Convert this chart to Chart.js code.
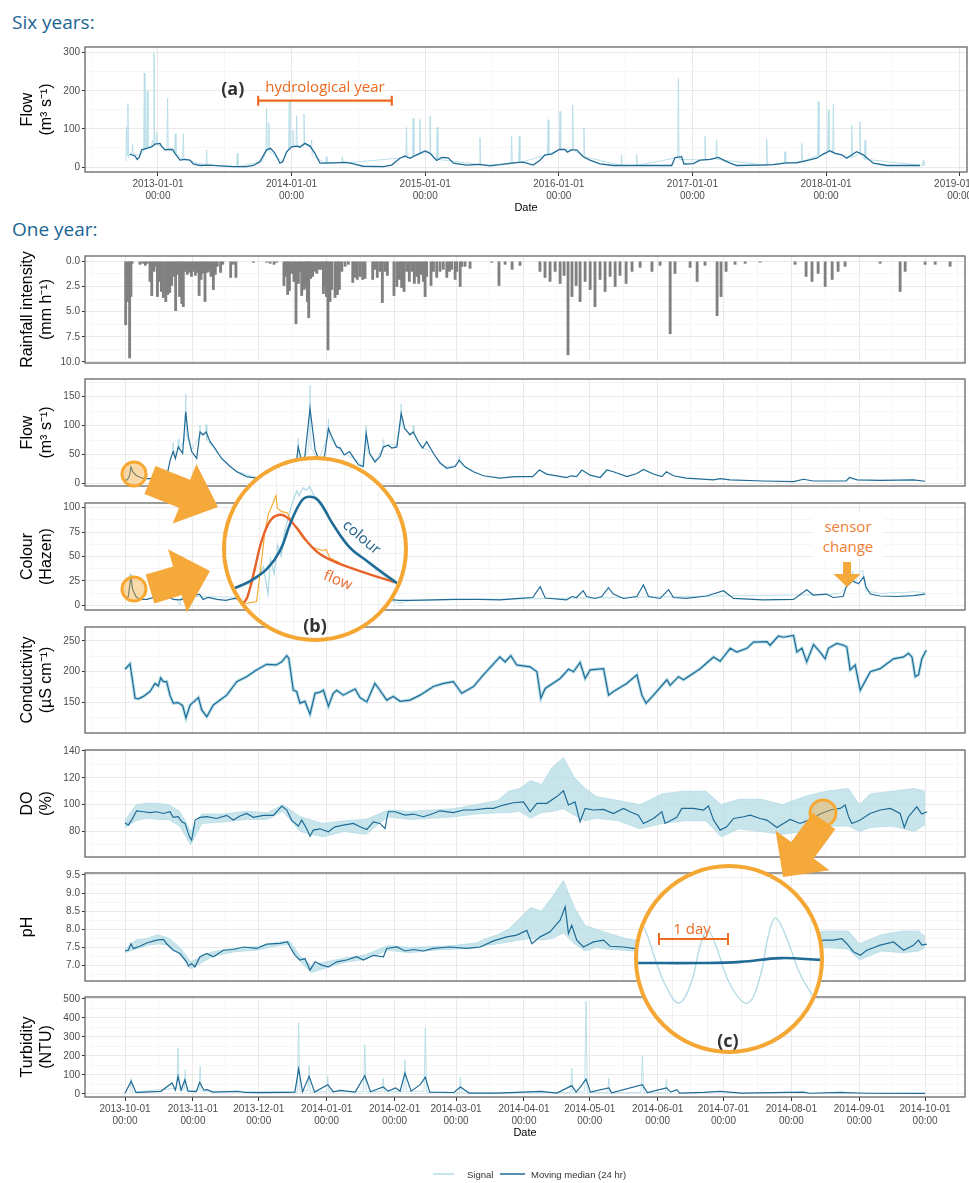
<!DOCTYPE html>
<html>
<head>
<meta charset="utf-8">
<script src="https://cdn.jsdelivr.net/npm/chart.js@4.4.1/dist/chart.umd.min.js"></script>
<style>
body { margin: 0; background: #fff; width: 969px; height: 1183px; position: relative; overflow: hidden; font-family: "Liberation Sans", Arial, sans-serif; }
canvas.pane { position: absolute; left: 0; z-index: 1; }
.head { position: absolute; left: 12px; font: 19px/26px "Open Sans", sans-serif; color: #1c6594; }
.zoomc { position: absolute; box-sizing: border-box; border: 4px solid #f5a733; border-radius: 50%; overflow: hidden; background: #fff; z-index: 3; }
.zoomc canvas { display: block; }
#deco { position: absolute; left: 0; top: 0; z-index: 4; pointer-events: none; }
</style>
</head>
<body>
<div class="head" style="top:9px">Six years:</div>
<div class="head" style="top:216px">One year:</div>

<canvas class="pane" id="six" width="969" height="174" style="top:41px"></canvas>
<canvas class="pane" id="rain" width="969" height="119" style="top:250px"></canvas>
<canvas class="pane" id="flow" width="969" height="119" style="top:373px"></canvas>
<canvas class="pane" id="colour" width="969" height="119" style="top:497px"></canvas>
<canvas class="pane" id="cond" width="969" height="118" style="top:621px"></canvas>
<canvas class="pane" id="do" width="969" height="119" style="top:744px"></canvas>
<canvas class="pane" id="ph" width="969" height="120" style="top:867px"></canvas>
<canvas class="pane" id="turb" width="969" height="149" style="top:991px"></canvas>

<div class="zoomc" style="left:222px;top:456px;width:186px;height:186px"><canvas id="zoomB" width="178" height="178"></canvas></div>
<div class="zoomc" style="left:634px;top:864px;width:190px;height:190px"><canvas id="zoomC" width="182" height="182"></canvas></div>

<svg id="deco" width="969" height="1183"></svg>

<script>
// ---------- six years of flow (x = decimal year) ----------
const flow6Years = [2012.790,2012.828,2012.845,2012.860,2012.878,2012.915,2012.953,2012.978,2013.015,2013.027,2013.052,2013.077,2013.110,2013.127,2013.165,2013.202,2013.240,2013.264,2013.314,2013.389,2013.464,2013.564,2013.664,2013.714,2013.763,2013.813,2013.843,2013.876,2013.913,2013.933,2013.963,2014.000,2014.038,2014.063,2014.100,2014.138,2014.175,2014.213,2014.312,2014.412,2014.462,2014.537,2014.687,2014.749,2014.811,2014.849,2014.886,2014.936,2014.999,2015.036,2015.086,2015.123,2015.173,2015.211,2015.310,2015.410,2015.485,2015.560,2015.660,2015.734,2015.809,2015.859,2015.897,2015.946,2016.004,2016.046,2016.064,2016.096,2016.134,2016.183,2016.233,2016.308,2016.408,2016.657,2016.845,2016.870,2016.919,2016.937,2017.007,2017.057,2017.132,2017.194,2017.256,2017.331,2017.506,2017.606,2017.705,2017.780,2017.855,2017.930,2017.980,2018.030,2018.067,2018.117,2018.154,2018.229,2018.279,2018.354,2018.454,2018.703];
const flow6Median = [34,29,20,25,45,49,53,60,62,55,45,46,46,36,18,20,18,8,4,5,3,1,1,4,14,45,49,36,10,14,40,53,55,52,62,55,36,10,11,12,8,2,1,5,23,29,23,32,42,36,17,25,24,10,5,7,3,6,11,13,5,18,32,34,46,46,39,45,45,27,18,8,4,4,4,25,27,8,9,18,20,25,14,4,5,6,11,11,17,23,34,43,36,32,23,40,32,10,4,4];
const flow6SigYears = [2012.760,2012.765,2012.770,2012.775,2012.780,2012.805,2012.810,2012.815,2012.860,2012.893,2012.898,2012.903,2012.915,2012.920,2012.925,2012.950,2012.960,2012.965,2012.970,2012.975,2012.985,2012.990,2012.995,2013.067,2013.072,2013.077,2013.125,2013.130,2013.135,2013.185,2013.190,2013.195,2013.359,2013.364,2013.369,2013.589,2013.594,2013.599,2013.780,2013.808,2013.813,2013.818,2013.825,2013.830,2013.835,2013.930,2013.978,2013.983,2013.988,2014.005,2014.010,2014.015,2014.033,2014.038,2014.043,2014.088,2014.093,2014.098,2014.145,2014.150,2014.155,2014.255,2014.260,2014.265,2014.375,2014.380,2014.385,2014.855,2014.860,2014.865,2014.905,2014.910,2014.915,2014.955,2014.960,2014.965,2015.031,2015.036,2015.041,2015.085,2015.090,2015.095,2015.405,2015.410,2015.415,2015.642,2015.647,2015.652,2015.699,2015.704,2015.709,2015.915,2015.920,2015.925,2016.004,2016.009,2016.014,2016.099,2016.104,2016.109,2016.183,2016.188,2016.193,2016.465,2016.470,2016.475,2016.578,2016.583,2016.588,2016.890,2016.895,2016.900,2017.089,2017.094,2017.099,2017.176,2017.181,2017.186,2017.551,2017.556,2017.561,2017.688,2017.693,2017.698,2017.813,2017.818,2017.823,2017.937,2017.942,2017.947,2018.012,2018.017,2018.022,2018.050,2018.055,2018.060,2018.187,2018.192,2018.197,2018.249,2018.254,2018.259,2018.287,2018.292,2018.297,2018.723,2018.728,2018.733];
const flow6Signal = [15,106,30,167,25,40,60,35,30,40,246,45,50,200,50,55,70,60,299,60,62,90,60,45,181,46,40,87,36,20,87,20,5,45,5,1,36,1,14,40,154,45,45,115,40,14,45,176,50,53,97,55,55,134,55,60,139,60,50,71,30,10,27,10,12,27,10,25,104,25,25,128,30,32,125,35,40,134,38,17,104,20,7,77,5,8,80,10,12,80,12,32,124,34,46,146,46,45,163,45,27,102,27,4,32,4,4,32,4,25,233,20,18,80,18,22,71,20,5,73,5,11,40,10,15,62,15,30,172,30,40,150,40,38,166,38,25,110,25,35,119,35,20,71,20,4,17,4];
const sixYearTicks = [2013, 2014, 2015, 2016, 2017, 2018, 2019];
const hydroYear = [2013.75, 2014.75];
const hydroBarLevel = 174;

// ---------- one hydrological year (x = days since 2013-10-01) ----------
const monthDays = [0, 31, 61, 92, 123, 151, 182, 212, 243, 273, 304, 335, 365];
const monthLabels = ['2013-10-01','2013-11-01','2013-12-01','2014-01-01','2014-02-01','2014-03-01','2014-04-01','2014-05-01','2014-06-01','2014-07-01','2014-08-01','2014-09-01','2014-10-01'];

const rainDays = [0.3,1.2,2.1,2.7,3.3,6.8,8.1,9.3,10.2,11.4,12.2,13.2,13.8,14.8,15.7,16.6,17.5,18.6,19.5,20.4,21.3,22.2,23.1,24,24.9,25.9,26.6,27.5,28.4,29.4,30.3,31.2,32.1,33,33.8,34.7,35.6,36.5,37.4,38.3,39.2,40.3,41.2,42.1,43.6,44.6,48.2,49.4,50.6,58.6,64.6,66.2,68,69.2,72.5,73.5,74.2,75,76,77.1,78,79.1,79.8,80.6,81.7,82.6,83.2,83.8,84.7,85.6,86.7,87.5,88.7,89.7,90.5,91.3,91.9,92.6,93.5,94.3,95.8,96.9,97.8,98.9,100.4,101.9,103.9,104.9,106,107.2,108.4,109.5,113,114.1,115.1,116.3,117.4,118.6,119.7,122.7,124,125.2,126.2,127.3,128.5,129.7,130.8,132,133.1,134,134.9,136.1,136.9,137.6,139.6,140.7,142.2,143.7,145.2,146.8,148,149,150.6,151.3,152.9,153.6,155.1,157.4,167.3,170.6,173.4,176.6,180.2,189.3,191.6,193.9,196.2,198.5,200.3,202.1,203.9,205.8,207.6,209.9,212.2,214.4,216.7,219,221.3,223.6,225.8,228.6,231.3,235,240.4,244.1,248.7,250.9,257.8,261,264.6,270.1,271.9,274.2,278.3,282.9,289.7,305.7,310.7,313.4,316.2,319.4,322.6,325.3,328.5,344.5,353.6,355.9,365,369.6,376.4];
const rainMm = [6.3,4.0,9.6,3.5,0.2,0.3,0.2,0.4,0.2,2.0,3.4,1.0,0.5,3.5,2.0,3.0,3.6,4.0,3.3,3.1,2.4,1.5,4.9,1.3,3.5,4.2,4.5,1.0,1.3,1.1,1.5,1.0,1.4,1.1,3.4,1.8,1.2,4.0,1.1,1.0,1.5,2.8,1.3,0.5,1.1,0.3,1.6,0.3,1.6,0.1,0.1,0.2,0.3,0.1,2.4,1.5,3.3,2.9,1.2,2.0,6.2,2.2,1.0,3.4,2.8,2.6,4.0,5.6,1.7,1.5,1.0,1.2,0.8,0.8,3.2,2.5,3.5,8.8,4.0,2.8,3.6,3.3,2.8,1.0,0.5,0.3,2.1,1.6,1.8,1.5,1.8,1.7,1.8,0.8,1.6,1.0,4.1,1.0,1.4,3.4,2.5,1.8,2.6,3.0,1.0,2.0,1.0,2.2,1.5,2.2,1.3,2.0,3.5,1.5,2.4,1.0,1.6,1.0,0.8,1.6,1.0,0.8,1.8,1.0,2.5,0.5,0.5,0.7,0.1,2.4,0.3,0.8,0.4,1.0,1.6,2.0,1.0,2.2,1.4,9.3,3.5,2.4,4.0,2.0,2.8,4.5,1.8,3.0,1.5,2.5,1.4,2.2,1.0,0.6,1.0,0.4,7.2,1.2,0.6,2.0,0.4,5.4,3.5,1.0,0.3,0.2,0.1,0.3,1.5,2.0,1.2,2.5,1.8,1.0,0.5,0.2,3.0,1.0,0.3,0.3,0.5];

const flowDays = [0,1,2,2.7,3.5,5,7,9,12,14.4,17,19,20.8,22,23,24.3,25.2,26.3,27.7,28.9,30.4,32.7,34.2,35.6,37,38.8,41,44,48,51,55.5,60,65,70,74,76,78,79,80.5,82,84.4,86.7,89,90.5,92.8,94.3,96.6,98.2,100,102.4,105,106.5,108.7,110,111.6,114,116.3,117.9,120.1,121.7,124,126,127.6,130,131.5,133.8,135.8,137.6,140.7,143.7,146.8,150.6,152.5,155,159,163.5,171,178,186,189,192.4,201.5,203.4,206,208.4,212.2,216.8,219.8,222.8,229,233.5,236.5,241,244.9,247,250.2,256,268.5,271.5,276,291,305,309.5,314,329,330.5,334,344.5,359.7,365];
const flowMedian = [5,6,12,28,20,14,10,8,8,9,10,11.5,43,55,43,63,58,52,124,81,55,43,89,84,89,72,61,43,29,20,11.5,9,7,6,8,20,30,63,40,45,130,58,35,33,95,81,63,61,49,55,40,32,29,87,52,37,46,63,66,61,63,121,95,84,89,72,61,72,52,35,26,29,40,29,20,13,9,11.5,11.5,23,16,10,13,11.5,23,14,10,23,20,11.5,17,24,16,11.5,20,13,9,6,8,6,4,3,7,4,4,10,6,5,6,3.5];
const flowSigDays = [21.6,22,22.4,24,24.3,24.6,27.2,27.7,28.2,30.4,33.8,34.2,34.6,36.6,37,37.4,40,44,50,60,70,76,78.6,79,79.4,82,83.9,84.4,84.9,88,92.4,92.8,93.2,96,100,105,108,109.6,110,110.4,114,117.5,117.9,118.3,121,124,125.6,126,126.4,130,131.2,131.5,131.8,135,140,146,150,152.1,152.5,152.9,158];
const flowSignal = [50,70,50,58,76,58,75,155,82,58,80,100,84,85,102,75,63,45,22,10,7,21,45,78,42,47,60,170,62,38,80,112,80,65,51,42,31,60,100,55,39,60,76,62,68,66,100,138,98,86,86,100,86,63,54,28,30,36,48,34,21];

const colourDays = [0,1.5,2.7,3.5,5,6.8,10,14.4,17.5,19,22,25,30,34,35.6,38,42,46,50,55,60,65,70,75,80,85,90,95,100,105,110,115,120,125,130,140.7,150,155.9,162,171,180,186,189.4,191.7,201.5,203.8,206,209,210.6,214.5,217.5,220.5,222.8,227.4,233.5,236.5,238.8,244.1,248,250.2,256,265.4,273,277.6,291,305,311,314,320,323,327.6,329,332,334.6,337,338,340,344.5,352,359.7,365];
const colourMedian = [7,9,29,16,9,6,6,9,11.5,9.5,6,5.5,9,11.5,6,8,6,5,7,6,8,7,9,10,8,7,6,5,6,5,6,5,6,5,5,5.5,6,6,6,5.5,7,8,19,7.5,5.5,9,8,15,9,7,9,18,11.5,7,9,21,9,7,16,8,7,9.5,15,7,5.5,6,16,10.5,11.5,8,9,19,25,22,29,19,11.5,9.5,9,10,11.5];
const colourSigDays = [14,16,20,24,25,26,27,28,30,120,125,130,320,326,330,332,333,335,336.5,338,340,345,350,355,360,365];
const colourSignal = [14,12,8,5,0,8,3,12,9,6,2,5,11,12,20,35,22,33,36,15,14,12,13,13,14,13];

const condDays = [0,2.3,4.6,6.1,8.4,11.4,13.7,15.2,16.3,17.5,19,20.5,22,24.3,26.3,27.8,29.7,33.5,35,37.3,40.3,46.4,51,55.5,60,64.6,69,71.5,73.8,74.7,76.8,78.3,79.8,82.1,84.4,86.7,89,90.5,92.8,95,96.6,99.6,102.7,105,107.2,110.3,114,116.3,119.4,122.4,125.5,130,134.6,140.7,145.3,149.8,153.6,159,163.5,171,173.4,176,178.7,184.8,187.9,189.7,191.7,198.5,202.3,204.6,207.6,209.9,212.2,218.3,220.6,222.8,228.9,233.5,235.8,237.7,241.1,247.2,248.7,252.5,254.8,262.4,268.5,271.5,276.1,279.1,283.7,286.7,292.8,294.3,298.1,300.4,305,306.5,308.8,311,314.1,317.1,319.4,320.9,324.7,327.8,329.3,330.8,333.1,335.4,340,344.5,350.6,355.2,357.4,359,360.5,362,363.5,365.5];
const condMedian = [204,213,157,156,160,168,181,177,190,184,184,162,149,150,145,125,146,158,138,127,146,162,184,192,203,212,211,216,226,222,170,168,149,152,131,165,167,170,144,165,170,162,168,172,158,151,181,170,154,160,152,154,162,176,181,184,165,176,195,224,216,226,211,208,200,157,173,189,204,200,215,189,203,205,162,168,181,195,162,149,162,187,178,192,187,205,224,217,238,232,238,248,249,243,258,256,259,232,238,216,244,232,221,238,246,243,240,203,211,170,200,205,221,224,230,224,192,195,221,235];

const doDays = [0,1.5,3,5.3,8.4,11.4,14.4,17.5,20.5,22,24.3,25.9,27.4,29.4,30.4,32,34.2,37.3,41.8,46.4,49.4,52.5,55.5,58.6,63.1,67.7,71.5,73.8,76,79.1,80.6,82.9,84.4,85.9,88.9,92.8,95.8,99.6,104.2,107.2,110.3,113.3,116.3,118.6,120.1,123.2,127.8,131.6,136.1,140.7,143.7,149.8,154.4,158.9,165,168.1,172.6,177.2,181.8,184.8,187.9,192.4,197,200,202.3,205.3,207.6,209.9,213.7,218.3,222.8,227.4,230.4,234.2,236.5,241.1,244.9,246.4,251.7,254,259.3,263.9,266.2,268.5,271.5,274.5,277.6,282.2,285.2,289.8,292.8,297.4,300.4,303.4,308,312.6,317.1,321.7,326.3,328.5,330.1,331.6,335.4,339.9,344.5,349.1,353.6,355.5,357.4,361.2,363.5,365.8];
const doMedian = [86.5,84.7,88.5,95.4,94.7,94,94.7,93.4,94.7,90.5,91,87.2,86,76,73.5,88.5,90.5,91,89.7,92,88.5,91.5,93.4,90.5,92,92,99,96,88.5,84,88.5,82,76.5,81,82,79.8,83.5,84.7,86,83.5,81.5,87.2,86,82.2,94.7,94.7,92.2,93,91,93.4,95.4,94,96,96,97.2,97.2,99.7,101.4,102,94.7,101,101,106,110.4,99.7,102,87.2,97.2,96,96.4,93.4,97.2,94.7,92.2,86,89.7,94.7,86,90.5,97.2,97.2,96,99,88.5,81,83.5,89.7,91,92.2,89.7,88.5,83,86,89,86,89,93,96,97.2,99.7,91,86,88.5,93.4,96,97.2,93.4,83,91,98.4,93,94.7];
const doEnvDays = [0,5,10,15,20,25,30,35,45,55,65,72,80,90,100,110,120,130,140,150,160,170,175,180,185,190,195,200,205,210,215,225,235,245,255,265,272,280,290,300,310,320,330,335,340,350,360,365];
const doUpper = [88,100,101,101,100,95,80,93,93,95,94,100,91,86,88,89,96,95,96,97,100,103,110,112,118,115,128,135,120,112,106,103,100,108,110,110,100,104,104,100,106,110,112,100,108,110,112,110];
const doLower = [83,88,90,89,89,84,70,86,87,89,89,95,80,76,80,78,91,89,90,91,93,94,94,95,90,94,95,97,92,88,90,88,82,86,88,88,76,82,80,78,80,84,84,80,83,84,80,85];

const phDays = [0,1.5,2.7,3.8,6.8,9.9,14.4,17.5,19,22,25.1,26.3,28.1,28.9,30.4,31.9,34.2,37.3,40.3,44.9,49.4,54,60.1,64.6,70.7,74.1,75.3,77.6,79.8,82.1,84.4,86.7,89.7,92.8,96.6,101.1,105.7,108.7,113.3,117.9,119.4,124,127.8,131.6,136.1,140.7,148.3,155.9,162,168.1,174.2,178.7,183.3,185.6,189.4,193.9,198.5,200.8,202.3,203.8,206.1,209.1,213.7,218.3,221.3,227.4,232,240,250,260,270,280,290,300,310,318.7,323.2,327,329.3,332.3,335.4,338.4,344.5,350.6,355.2,359.7,362,363.5,365.8];
const phMedian = [7.40,7.42,7.6,7.47,7.53,7.62,7.7,7.72,7.6,7.42,7.33,7.24,7.1,6.98,7.05,6.96,7.24,7.33,7.24,7.42,7.44,7.51,7.47,7.59,7.61,7.65,7.51,7.28,7.15,7.19,6.87,7.1,7.01,6.96,7.1,7.15,7.24,7.15,7.28,7.24,7.47,7.51,7.4,7.44,7.40,7.47,7.51,7.47,7.51,7.68,7.79,7.84,7.97,7.6,7.79,7.93,8.25,8.62,7.88,8.11,7.7,7.51,7.65,7.7,7.53,7.51,7.47,7.5,7.45,7.55,7.45,7.5,7.5,7.55,7.5,7.7,7.7,7.74,7.6,7.38,7.28,7.42,7.56,7.65,7.42,7.56,7.7,7.56,7.59];
const phEnvDays = [0,5,10,15,20,25,30,40,50,60,70,75,80,85,90,100,110,120,130,140,150,160,165,170,175,180,185,190,195,200,205,210,215,220,228,232,250,270,300,320,330,335,345,355,362,365];
const phUpper = [7.45,7.7,7.75,7.85,7.75,7.5,7.1,7.38,7.48,7.52,7.65,7.68,7.25,7.0,7.08,7.2,7.3,7.55,7.5,7.52,7.55,7.62,7.75,7.85,8.0,8.3,8.6,8.5,8.9,9.35,8.6,8.1,8.0,7.9,7.75,7.7,7.8,7.8,7.8,7.95,7.95,7.6,7.85,7.95,7.95,7.8];
const phLower = [7.35,7.45,7.55,7.6,7.55,7.3,6.9,7.25,7.38,7.42,7.55,7.58,7.1,6.8,6.9,7.08,7.18,7.42,7.35,7.42,7.45,7.48,7.55,7.6,7.65,7.7,7.75,7.7,7.75,7.9,7.6,7.4,7.5,7.45,7.42,7.4,7.3,7.3,7.3,7.5,7.45,7.15,7.4,7.35,7.4,7.5];

const turbDays = [0,2.8,5,6.5,16.4,21.4,23,24.2,25.6,27.3,28.8,30.4,32.5,34.1,36,37.5,40,51.6,55,61.4,72.7,77.5,79.2,81,84,86.5,92.5,95,98.2,105,109.4,112,117.8,120,123.5,125.5,127.7,130.5,134.7,137,139,150,153,157,170,189.7,197,203.8,205.8,208,210.3,212.3,220.7,222,236,238.3,247,249,251.7,253,264,271.5,281.3,309.5,312.3,326.4,337.6,365];
const turbMedian = [4,67,8,9,14,58,20,93,20,75,15,14,12,61,20,23,10,14,8,7,9,10,132,12,93,10,49,12,19,10,96,12,37,15,32,15,110,15,49,89,10,8,37,5,5,14,5,44,10,40,79,10,32,6,49,7,32,10,23,5,9,14,5,10,4,9,4,3.5];
const turbSigDays = [2.2,2.8,3.4,23.6,24.2,24.8,27,27.5,28,33.8,34.3,34.8,78.6,79.2,79.8,83.5,84,84.5,92,92.5,93,108.8,109.4,110,117.3,117.8,118.3,127.1,127.7,128.3,136.4,137,137.6,152.5,153,153.5,203.3,203.8,204.3,209.7,210.3,210.9,220.2,220.7,221.2,235.4,236,236.6,246.5,247,247.5];
const turbSignal = [5,84,10,30,242,20,25,128,15,20,146,15,10,374,12,20,149,10,12,93,12,12,260,12,12,84,12,12,181,12,15,347,10,5,89,5,8,137,8,12,488,10,6,84,6,8,198,7,6,79,6];

// ---------- zoom (b): one event, colour vs flow ----------
const bColourT = [1.1,13.5,23,30.3,36,41.6,45.5,51.7,60,69.7,79.2,88.2,96];
const bColourV = [26.4,32,38.8,48.9,64,75.8,79.2,77.5,64,50.6,43.3,36.5,30.9];
const bColourSigT = [1,8,14,18,21,23.6,25,27,29,31,33,35,37,39.7,41,43.3,45,47,49,52,56,60,64,68,72,76,80,85,90,96];
const bColourSigV = [26,29,31,34,40,24.7,44,36,52,46,60,68,75,82.6,80,84.4,83,85,81,76,70,64,58,53,49,46,42,38,34,31];
const bFlowT = [6,10.7,13.5,16.3,20,24.7,29.4,34,39.7,45.3,52.8,64,75.3,86.5,95.9];
const bFlowV = [18.9,20.6,28.1,39.4,54.5,65.7,69.1,68,61.9,54.5,47.2,41.6,37.6,33.9,31.1];
const bFlowSigT = [5.6,12,17.2,19.1,21.9,23.8,25.7,28.1,28.8,31.3,34.4,37.8,43.4,49,54.7,56.2,58.4,64];
const bFlowSigV = [19,19.5,20.5,36,60,69.5,74,80,73,71,70.4,64,56,50.7,49,49.8,45,42.3];

// ---------- zoom (c): diurnal DO cycle ----------
const cSigT = [0,3,9.6,15,22.3,28.8,34.3,38.2,42.6,50.8,60.2,67.3,71.7,75.5,81,89.3,96.4,100];
const cSigV = [66,67.6,49.5,35.7,25.8,35.7,57.7,66,57.7,35.7,25.8,41.2,63.2,72.5,63.2,41.2,29.1,22];
const cMedT = [0,34.3,56.3,78.3,100];
const cMedV = [47.8,47.8,48.4,50.5,49.5];

const MEDIAN = '#1f6b96';
const SIGNAL = '#b5dce6';
const TICKCOL = '#4d4d4d';

const pts = (xs, ys) => xs.map((x, i) => ({x: x, y: ys[i]}));

function line(xs, ys, color, width, order, tension) {
    return {type: 'line', data: pts(xs, ys), borderColor: color, borderWidth: width, pointRadius: 0, fill: false, order: order, tension: tension || 0};
}

function band(xs, hi, lo) {
    return [
        {type: 'line', data: pts(xs, hi), borderColor: SIGNAL, borderWidth: 0.8, backgroundColor: 'rgba(181,220,230,0.75)', pointRadius: 0, fill: '+1', order: 1},
        {type: 'line', data: pts(xs, lo), borderColor: SIGNAL, borderWidth: 0.8, pointRadius: 0, fill: false, order: 2}
    ];
}

// major ticks plus ggplot-style minor lines half way between them
function withMinor(maj, lo, hi) {
    const out = [];
    const s0 = maj[1] - maj[0], s1 = maj[maj.length - 1] - maj[maj.length - 2];
    out.push(maj[0] - s0 / 2);
    maj.forEach(function(v, i) {
        out.push(v);
        if (i < maj.length - 1) out.push((v + maj[i + 1]) / 2);
    });
    out.push(maj[maj.length - 1] + s1 / 2);
    return out.filter(v => v >= lo && v <= hi);
}

const frame = {
    id: 'frame',
    afterDatasetsDraw(chart) {
        const a = chart.chartArea, ctx = chart.ctx;
        ctx.save();
        ctx.strokeStyle = '#666';
        ctx.lineWidth = 1.3;
        ctx.strokeRect(a.left, a.top, a.right - a.left, a.bottom - a.top);
        ctx.restore();
    }
};

function makePanel(id, o) {
    const xTicks = withMinor(o.xMajor, o.xMin, o.xMax);
    const yTicks = withMinor(o.yMajor, o.yMin, o.yMax);
    const majX = v => o.xMajor.indexOf(v) >= 0;
    const majY = v => o.yMajor.indexOf(v) >= 0;
    const showX = !!o.xH;
    return new Chart(document.getElementById(id), {
        type: o.type || 'line',
        data: {datasets: o.datasets},
        options: {
            responsive: false,
            animation: false,
            events: [],
            layout: {padding: {left: 0, right: o.padRight || 4, top: 6, bottom: showX ? 0 : 6}},
            plugins: {legend: {display: false}, tooltip: {enabled: false}},
            scales: {
                x: {
                    type: 'linear', min: o.xMin, max: o.xMax, offset: false,
                    afterBuildTicks: s => { s.ticks = xTicks.map(v => ({value: v})); },
                    afterFit: s => { s.height = o.xH || 0; s.paddingLeft = 0; s.paddingRight = 0; },
                    ticks: {
                        display: showX, autoSkip: false, maxRotation: 0, minRotation: 0, padding: 2,
                        color: TICKCOL, font: {family: 'Liberation Sans', size: 10},
                        callback: v => majX(v) ? o.xLabel(v) : ''
                    },
                    grid: {
                        offset: false, drawTicks: showX, tickLength: 4,
                        color: c => (c.tick && majX(c.tick.value)) ? '#e9e9e9' : '#f4f4f4',
                        lineWidth: c => (c.tick && majX(c.tick.value)) ? 1 : 0.8,
                        tickColor: c => (c.tick && majX(c.tick.value)) ? '#333' : 'rgba(0,0,0,0)'
                    },
                    border: {display: false},
                    title: {display: showX, text: 'Date', color: '#000', font: {family: 'Liberation Sans', size: 11}, padding: {top: 0, bottom: 0}}
                },
                y: {
                    type: 'linear', min: o.yMin, max: o.yMax, reverse: !!o.reverse,
                    afterBuildTicks: s => { s.ticks = yTicks.map(v => ({value: v})); },
                    afterFit: s => { s.width = 85; s.paddingTop = 0; s.paddingBottom = 0; },
                    ticks: {
                        autoSkip: false, padding: 2, color: TICKCOL, font: {family: 'Liberation Sans', size: 10},
                        callback: v => majY(v) ? (o.yFmt ? o.yFmt(v) : String(v)) : ''
                    },
                    grid: {
                        tickLength: 3,
                        color: c => (c.tick && majY(c.tick.value)) ? '#e9e9e9' : '#f4f4f4',
                        lineWidth: c => (c.tick && majY(c.tick.value)) ? 1 : 0.8,
                        tickColor: c => (c.tick && majY(c.tick.value)) ? '#333' : 'rgba(0,0,0,0)'
                    },
                    border: {display: false},
                    title: {display: true, text: o.title, color: '#000', font: {family: 'Liberation Sans', size: 16}, padding: {top: 18, bottom: 0}}
                }
            }
        },
        plugins: [frame].concat(o.plugins || [])
    });
}

// bracket marking the hydrological year in the six-year panel
const hydroNote = {
    id: 'hydroNote',
    afterDatasetsDraw(chart) {
        const ctx = chart.ctx, x = chart.scales.x, y = chart.scales.y;
        const x0 = x.getPixelForValue(hydroYear[0]), x1 = x.getPixelForValue(hydroYear[1]);
        const yy = y.getPixelForValue(hydroBarLevel);
        ctx.save();
        ctx.strokeStyle = '#ec6b22';
        ctx.lineWidth = 2.2;
        ctx.beginPath();
        ctx.moveTo(x0, yy); ctx.lineTo(x1, yy);
        ctx.moveTo(x0, yy - 5); ctx.lineTo(x0, yy + 5);
        ctx.moveTo(x1, yy - 5); ctx.lineTo(x1, yy + 5);
        ctx.stroke();
        ctx.textAlign = 'center';
        ctx.textBaseline = 'middle';
        ctx.fillStyle = '#ec6b22';
        ctx.font = '15px "Open Sans"';
        ctx.fillText('hydrological year', (x0 + x1) / 2, yy - 13);
        ctx.fillStyle = '#333';
        ctx.font = 'bold 18px "Open Sans"';
        ctx.fillText('(a)', x.getPixelForValue(2013.56), yy - 11);
        ctx.restore();
    }
};

const yearOpts = {xMin: -18.25, xMax: 383.2, xMajor: monthDays, xLabel: v => [monthLabels[monthDays.indexOf(v)], '00:00']};

makePanel('six', {
    xMin: 2012.454, xMax: 2019.055, xMajor: sixYearTicks, xLabel: v => [v + '-01-01', '00:00'], xH: 43, padRight: 2,
    yMin: -13.1, yMax: 315, yMajor: [0, 100, 200, 300], title: ['Flow', '(m\u00b3 s\u207b\u00b9)'],
    datasets: [line(flow6Years, flow6Median, MEDIAN, 1.3, 0), line(flow6SigYears, flow6Signal, SIGNAL, 0.9, 1)],
    plugins: [hydroNote]
});

makePanel('rain', Object.assign({}, yearOpts, {
    type: 'bar', yMin: -0.53, yMax: 10.1, reverse: true, yMajor: [0, 2.5, 5, 7.5, 10], yFmt: v => v.toFixed(1),
    title: ['Rainfall intensity', '(mm h\u207b\u00b9)'],
    datasets: [{type: 'bar', data: pts(rainDays, rainMm), backgroundColor: '#808080', barThickness: 2.2, borderWidth: 0}]
}));

makePanel('flow', Object.assign({}, yearOpts, {
    yMin: -4.7, yMax: 180.7, yMajor: [0, 50, 100, 150], title: ['Flow', '(m\u00b3 s\u207b\u00b9)'],
    datasets: [line(flowDays, flowMedian, MEDIAN, 1.2, 0), line(flowSigDays, flowSignal, SIGNAL, 0.9, 1)]
}));

makePanel('colour', Object.assign({}, yearOpts, {
    yMin: -4.8, yMax: 104.7, yMajor: [0, 25, 50, 75, 100], title: ['Colour', '(Hazen)'],
    datasets: [line(colourDays, colourMedian, MEDIAN, 1.2, 0), line(colourSigDays, colourSignal, SIGNAL, 0.9, 1)]
}));

makePanel('cond', Object.assign({}, yearOpts, {
    yMin: 100.6, yMax: 272.6, yMajor: [150, 200, 250], title: ['Conductivity', '(\u00b5S cm\u207b\u00b9)'],
    datasets: [line(condDays, condMedian, MEDIAN, 1.2, 0), line(condDays, condMedian, SIGNAL, 3.2, 1)]
}));

makePanel('do', Object.assign({}, yearOpts, {
    yMin: 61, yMax: 140.7, yMajor: [80, 100, 120, 140], title: ['DO', '(%)'],
    datasets: [line(doDays, doMedian, MEDIAN, 1.2, 0)].concat(band(doEnvDays, doUpper, doLower))
}));

makePanel('ph', Object.assign({}, yearOpts, {
    yMin: 6.57, yMax: 9.555, yMajor: [7, 7.5, 8, 8.5, 9, 9.5], yFmt: v => v.toFixed(1), title: 'pH',
    datasets: [line(phDays, phMedian, MEDIAN, 1.2, 0)].concat(band(phEnvDays, phUpper, phLower))
}));

makePanel('turb', Object.assign({}, yearOpts, {
    xH: 43,
    yMin: -15.8, yMax: 510.5, yMajor: [0, 100, 200, 300, 400, 500], title: ['Turbidity', '(NTU)'],
    datasets: [line(turbDays, turbMedian, MEDIAN, 1.2, 0), line(turbSigDays, turbSignal, SIGNAL, 0.9, 1)]
}));

// magnified insets drawn as small charts clipped by round frames
function inset(id, datasets, step) {
    const ticks = [];
    for (let v = 0; v <= 100; v += step) ticks.push(v);
    const ax = {
        type: 'linear', min: 0, max: 100,
        afterBuildTicks: s => { s.ticks = ticks.map(v => ({value: v})); },
        ticks: {display: false}, border: {display: false},
        grid: {color: '#efefef', drawTicks: false}
    };
    return new Chart(document.getElementById(id), {
        type: 'line',
        data: {datasets: datasets},
        options: {
            responsive: false, animation: false, events: [],
            layout: {padding: 0},
            plugins: {legend: {display: false}, tooltip: {enabled: false}},
            scales: {
                x: Object.assign({}, ax, {afterFit: s => { s.height = 0; s.paddingLeft = 0; s.paddingRight = 0; }}),
                y: Object.assign({}, ax, {afterFit: s => { s.width = 0; s.paddingTop = 0; s.paddingBottom = 0; }})
            }
        }
    });
}

inset('zoomB', [
    line(bColourT, bColourV, MEDIAN, 2.6, 0, 0.4),
    line(bFlowT, bFlowV, '#e8622a', 2.4, 1, 0.4),
    line(bFlowSigT, bFlowSigV, '#f5a623', 1.1, 2),
    line(bColourSigT, bColourSigV, SIGNAL, 1.4, 3)
], 9.5);

inset('zoomC', [
    line(cMedT, cMedV, MEDIAN, 2.6, 0, 0.4),
    line(cSigT, cSigV, SIGNAL, 1.4, 1, 0.4)
], 19);

// orange callouts, labels and legend
function arrow(tx, ty, px, py, sw, hw, hl) {
    const L = Math.hypot(px - tx, py - ty), ux = (px - tx) / L, uy = (py - ty) / L, nx = -uy, ny = ux;
    const bx = px - ux * hl, by = py - uy * hl;
    const p = [
        [tx + nx * sw / 2, ty + ny * sw / 2], [bx + nx * sw / 2, by + ny * sw / 2], [bx + nx * hw / 2, by + ny * hw / 2],
        [px, py], [bx - nx * hw / 2, by - ny * hw / 2], [bx - nx * sw / 2, by - ny * sw / 2], [tx - nx * sw / 2, ty - ny * sw / 2]
    ];
    return '<polygon fill="#f6a93b" points="' + p.map(q => q[0].toFixed(1) + ',' + q[1].toFixed(1)).join(' ') + '"/>';
}
const ring = (x, y, r) => '<circle cx="' + x + '" cy="' + y + '" r="' + r + '" fill="rgba(246,168,51,0.42)" stroke="#f6a833" stroke-width="3"/>';
const OS = 'font-family="Open Sans"';

let svg = '';
svg += arrow(150, 480, 218, 507, 30, 64, 36);
svg += arrow(150, 589, 210, 571, 30, 66, 34);
svg += arrow(824, 821, 783, 877, 28, 67, 33);
svg += ring(134, 474, 12) + ring(134, 589, 12) + ring(823, 813, 13);
svg += '<rect x="812" y="512" width="72" height="46" fill="#fff"/>';
svg += '<text ' + OS + ' font-size="15" fill="#ef7d33" text-anchor="middle" x="848" y="532">sensor</text>';
svg += '<text ' + OS + ' font-size="15" fill="#ef7d33" text-anchor="middle" x="848" y="552">change</text>';
svg += arrow(847, 562, 847, 587, 8, 27, 13);
svg += '<text ' + OS + ' font-size="15" fill="#1f5f8b" text-anchor="middle" transform="translate(362,537) rotate(40)" y="5">colour</text>';
svg += '<text ' + OS + ' font-size="15" fill="#ec6a2c" text-anchor="middle" transform="translate(338,580) rotate(22)" y="5">flow</text>';
svg += '<text ' + OS + ' font-size="18" font-weight="bold" fill="#333" text-anchor="middle" x="315" y="632">(b)</text>';
svg += '<path d="M659,939 H728 M659,933 V945 M728,933 V945" stroke="#ec6b22" stroke-width="2" fill="none"/>';
svg += '<text ' + OS + ' font-size="15" fill="#ec6b22" text-anchor="middle" x="692" y="934">1 day</text>';
svg += '<text ' + OS + ' font-size="18" font-weight="bold" fill="#333" text-anchor="middle" x="728" y="1047">(c)</text>';
svg += '<line x1="433" y1="1174" x2="454" y2="1174" stroke="' + SIGNAL + '" stroke-width="1.5"/>';
svg += '<text font-family="Liberation Sans" font-size="9.5" fill="#333" x="467" y="1177.5">Signal</text>';
svg += '<line x1="500" y1="1174" x2="525" y2="1174" stroke="' + MEDIAN + '" stroke-width="1.5"/>';
svg += '<text font-family="Liberation Sans" font-size="9.5" fill="#333" x="531" y="1177.5">Moving median (24 hr)</text>';
document.getElementById('deco').innerHTML = svg;
</script>
</body>
</html>
